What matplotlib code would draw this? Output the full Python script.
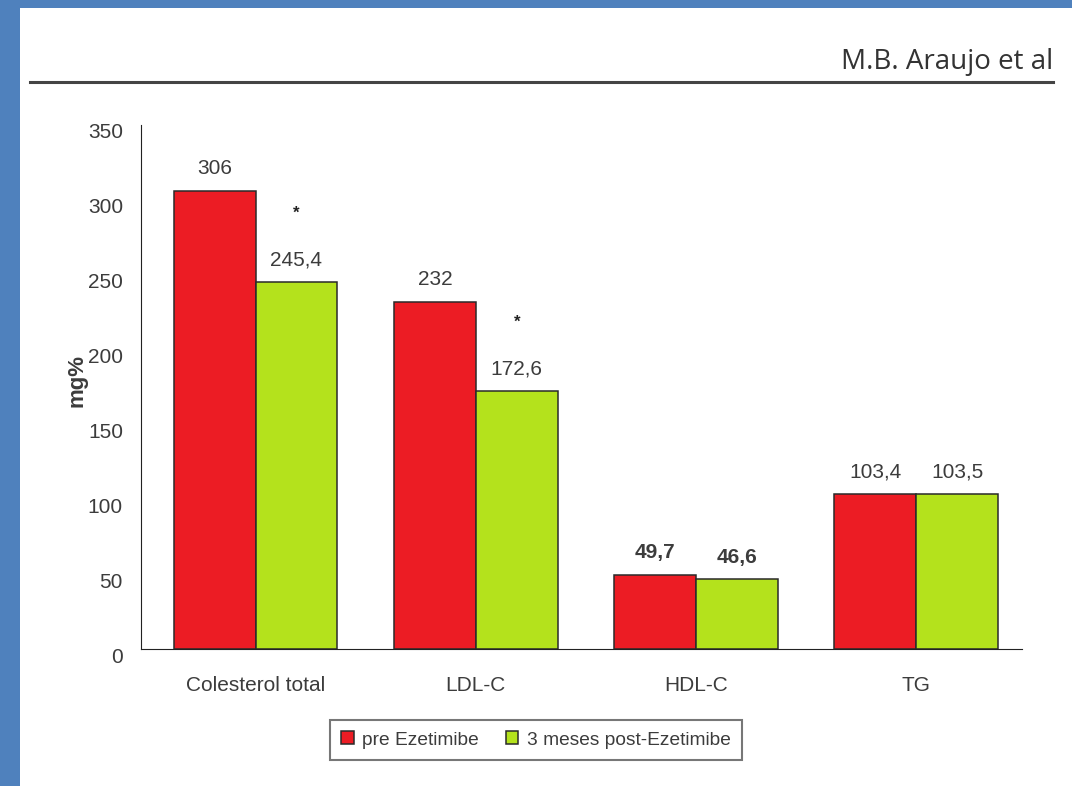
import numpy as np
import matplotlib
matplotlib.use("Agg")
import matplotlib.pyplot as plt
import matplotlib.transforms as mtransforms
from matplotlib.patches import Rectangle

plt.rcParams['font.family'] = ['Liberation Sans', 'DejaVu Sans']

categories = ["Colesterol total", "LDL-C", "HDL-C", "TG"]
pre = [306, 232, 49.7, 103.4]
post = [245.4, 172.6, 46.6, 103.5]
pre_labels = ["306", "232", "49,7", "103,4"]
post_labels = ["245,4", "172,6", "46,6", "103,5"]
significant = [True, True, False, False]
bold_labels = [False, False, True, False]
yticks = [0, 50, 100, 150, 200, 250, 300, 350]

red = "#ec1c24"
green = "#b4e21c"
txt = "#3c3c3c"

W, H = 1072, 786
fig = plt.figure(figsize=(W / 100, H / 100), dpi=100)

# blue frame around the page
fig.patches.append(Rectangle((0, 0), 1, 1, transform=fig.transFigure,
                             facecolor="#4f81bd", zorder=-10))
fig.patches.append(Rectangle((20 / W, 0), 1, 1 - 8 / H, transform=fig.transFigure,
                             facecolor="white", zorder=-9))

# page header
fig.text(1053 / W, 1 - 62 / H, "M.B. Araujo et al", ha="right", va="center",
         fontsize=20, family="Open Sans", color="#333333")
fig.add_artist(plt.Line2D([30 / W, 1053 / W], [1 - 82 / H, 1 - 82 / H],
                          transform=fig.transFigure, color="#444444", lw=2.2))

ax = fig.add_axes([141 / W, 1 - 649.3 / H, 881 / W, 524.3 / H])
x = np.arange(len(categories))
w = 0.372
b1 = ax.bar(x - w / 2, pre, w, color=red, edgecolor="#2a2a2a", linewidth=1.1,
            label="pre Ezetimibe")
b2 = ax.bar(x + w / 2, post, w, color=green, edgecolor="#2a2a2a", linewidth=1.1,
            label="3 meses post-Ezetimibe")

for i in range(len(categories)):
    weight = "bold" if bold_labels[i] else "normal"
    ax.annotate(pre_labels[i], (x[i] - w / 2, pre[i]), xytext=(0, 22),
                textcoords="offset pixels", ha="center", va="center",
                fontsize=15, color=txt, fontweight=weight)
    ax.annotate(post_labels[i], (x[i] + w / 2, post[i]), xytext=(0, 22),
                textcoords="offset pixels", ha="center", va="center",
                fontsize=15, color=txt, fontweight=weight)
    if significant[i]:
        ax.annotate("*", (x[i] + w / 2, post[i]), xytext=(0, 68),
                    textcoords="offset pixels", ha="center", va="center",
                    fontsize=12, color="#222222", fontweight="bold")

ax.set_xlim(-0.52, 3.48)
ax.set_ylim(0, 349.3)
ax.set_yticks(yticks)
ax.set_xticks(x)
ax.set_xticklabels(categories)
ax.tick_params(axis="both", length=0, labelsize=15, labelcolor=txt)
ax.tick_params(axis="y", pad=13)
ax.tick_params(axis="x", pad=19)
# y labels sit a little below their gridline values
shift = mtransforms.ScaledTranslation(0, -6 / 100, fig.dpi_scale_trans)
for lab in ax.get_yticklabels():
    lab.set_transform(lab.get_transform() + shift)
ax.spines["top"].set_visible(False)
ax.spines["right"].set_visible(False)
ax.spines["left"].set_color("#222222")
ax.spines["bottom"].set_color("#222222")
ax.set_ylabel("mg%", fontsize=16, fontweight="bold", color=txt)
ax.yaxis.set_label_coords(-0.061, 0.512)

leg = fig.legend(handles=[b1, b2], loc="center", bbox_to_anchor=(536 / W, 1 - 740 / H),
                 ncol=2, frameon=True, fancybox=False, edgecolor="#555555",
                 fontsize=13.8, handlelength=0.65, handleheight=0.65, handletextpad=0.45,
                 columnspacing=1.4, borderpad=0.6, borderaxespad=0)
leg.get_frame().set_linewidth(1.5)
for t in leg.get_texts():
    t.set_color(txt)

fig.savefig("out.png", dpi=100)
